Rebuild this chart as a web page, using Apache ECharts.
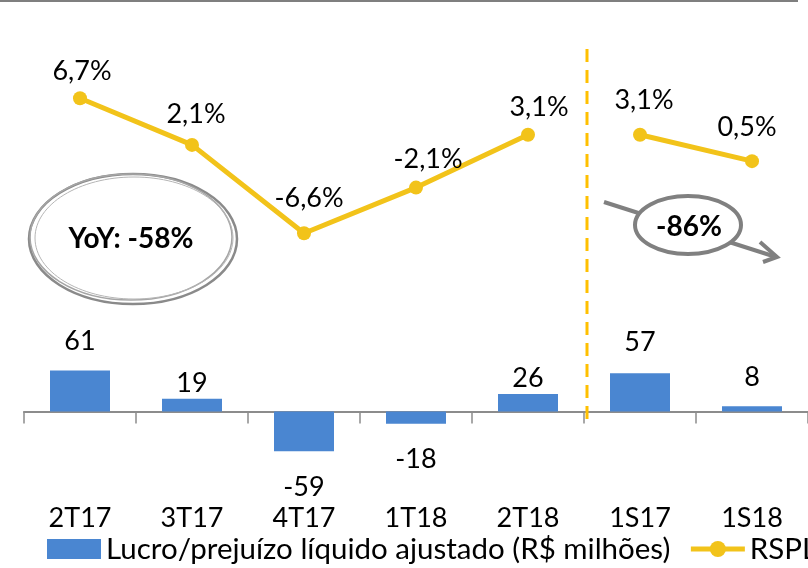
<!DOCTYPE html>
<html>
<head>
<meta charset="utf-8">
<script src="https://cdn.jsdelivr.net/npm/echarts@6/dist/echarts.min.js"></script>
<style>
  html, body { margin: 0; padding: 0; background: #fff; }
  #main { width: 808px; height: 568px; }
</style>
</head>
<body>
<div id="main"></div>
<script>
// dados
var categorias = ['2T17', '3T17', '4T17', '1T18', '2T18', '1S17', '1S18'];
var lucro = [61, 19, -59, -18, 26, 57, 8];           // R$ milhões
var rsplTrimestre = [6.7, 2.1, -6.6, -2.1, 3.1, '-', '-'];
var rsplSemestre = ['-', '-', '-', '-', '-', 3.1, 0.5];

var nomeBarra = 'Lucro/prejuízo líquido ajustado (R$ milhões)';
var fonte = 'Lato, "Open Sans", sans-serif';

// deslocamento dos rótulos (igual ao original, que foi ajustado a mão)
var barLabelDy = [-11, 3, 18, 17, 3, -12, -10];
var lineLabelOff = [[2, 0], [4, -4], [5, -8], [12, -2], [11, -1], [4, -8], [-5, -7]];

function pct(v) { return v.toFixed(1).replace('.', ',') + '%'; }

function itensLinha(arr) {
  return arr.map(function (v, i) {
    if (v === '-') return v;
    return { value: v, label: { offset: lineLabelOff[i] } };
  });
}

var myChart = echarts.init(document.getElementById('main'));

var corLinha = '#f2c31a';

var rotuloLinha = {
  show: true, position: 'top', distance: 6, fontSize: 27, color: '#000', fontFamily: fonte,
  formatter: function (p) { return pct(p.value); }
};

var option = {
  animation: false,
  textStyle: { fontFamily: fonte },
  legend: {
    left: 42,
    bottom: -1,
    width: 1000,
    itemWidth: 54,
    itemHeight: 20,
    itemGap: 18,
    textStyle: { fontSize: 29.5, color: '#000', fontFamily: fonte },
    data: [{ name: nomeBarra, icon: 'rect' }, { name: 'RSPL', lineStyle: { width: 5 } }]
  },
  grid: { left: 24, right: -4, top: 22, height: 450 },
  xAxis: [{
    type: 'category',
    data: categorias,
    axisLine: { onZero: true, lineStyle: { color: '#8c8c8c', width: 2 } },
    axisTick: { show: true, length: 12, lineStyle: { color: '#8c8c8c', width: 1.5 } },
    axisLabel: { show: false }
  }, {
    type: 'category',
    position: 'bottom',
    data: categorias,
    axisLine: { show: false },
    axisTick: { show: false },
    axisLabel: { fontSize: 27, color: '#000', margin: 33, fontFamily: fonte }
  }],
  yAxis: [
    { type: 'value', min: -90, max: 580, show: false, splitLine: { show: false } },
    { type: 'value', min: -30.1, max: 14.2, show: false, splitLine: { show: false } }
  ],
  series: [{
    name: nomeBarra,
    type: 'bar',
    barWidth: 60,
    itemStyle: { color: '#4a86d1' },
    label: {
      show: true,
      position: 'outside',
      distance: 5,
      fontSize: 27,
      color: '#000',
      fontFamily: fonte
    },
    data: lucro.map(function (v, i) {
      return { value: v, label: { offset: [0, barLabelDy[i]] } };
    })
  }, {
    name: 'RSPL',
    type: 'line',
    yAxisIndex: 1,
    symbol: 'circle',
    symbolSize: 14,
    lineStyle: { color: corLinha, width: 5 },
    itemStyle: { color: corLinha },
    label: rotuloLinha,
    data: itensLinha(rsplTrimestre)
  }, {
    name: 'RSPL',
    type: 'line',
    yAxisIndex: 1,
    symbol: 'circle',
    symbolSize: 14,
    lineStyle: { color: corLinha, width: 5 },
    itemStyle: { color: corLinha },
    label: rotuloLinha,
    data: itensLinha(rsplSemestre)
  }],
  graphic: [
    // borda superior
    { type: 'line', shape: { x1: 0, y1: 1, x2: 798, y2: 1 }, style: { stroke: '#7f7f7f', lineWidth: 2 } },
    // separador trimestre / semestre
    { type: 'line', shape: { x1: 587, y1: 49, x2: 587, y2: 422 }, style: { stroke: '#ffc000', lineWidth: 3, lineDash: [13, 8] }, z: 1 },
    // elipse YoY (traço "à mão")
    { type: 'ellipse', shape: { cx: 133, cy: 239, rx: 104, ry: 65 }, style: { fill: 'rgba(255,255,255,0)', stroke: '#8a8a8a', lineWidth: 2.5 } },
    { type: 'ellipse', shape: { cx: 131, cy: 237, rx: 101, ry: 63 }, style: { fill: 'rgba(255,255,255,0)', stroke: '#a5a5a5', lineWidth: 1.5 } },
    { type: 'ellipse', shape: { cx: 134, cy: 238, rx: 99, ry: 61 }, style: { fill: 'rgba(255,255,255,0)', stroke: '#b5b5b5', lineWidth: 1 } },
    { type: 'text', x: 131, y: 239, style: { text: 'YoY: -58%', font: 'bold 28px ' + fonte, fill: '#000', align: 'center', verticalAlign: 'middle' } },
    // seta -86%
    { type: 'line', shape: { x1: 604, y1: 202, x2: 776, y2: 257 }, style: { stroke: '#808080', lineWidth: 4 } },
    { type: 'polyline', shape: { points: [[760, 242], [777, 257], [763, 262]] }, style: { stroke: '#808080', lineWidth: 4, fill: null } },
    { type: 'ellipse', shape: { cx: 688, cy: 225, rx: 53, ry: 29 }, style: { fill: '#fff', stroke: '#808080', lineWidth: 4 } },
    { type: 'text', x: 689, y: 227, style: { text: '-86%', font: 'bold 28px ' + fonte, fill: '#000', align: 'center', verticalAlign: 'middle' } }
  ]
};

myChart.setOption(option);
</script>
</body>
</html>
